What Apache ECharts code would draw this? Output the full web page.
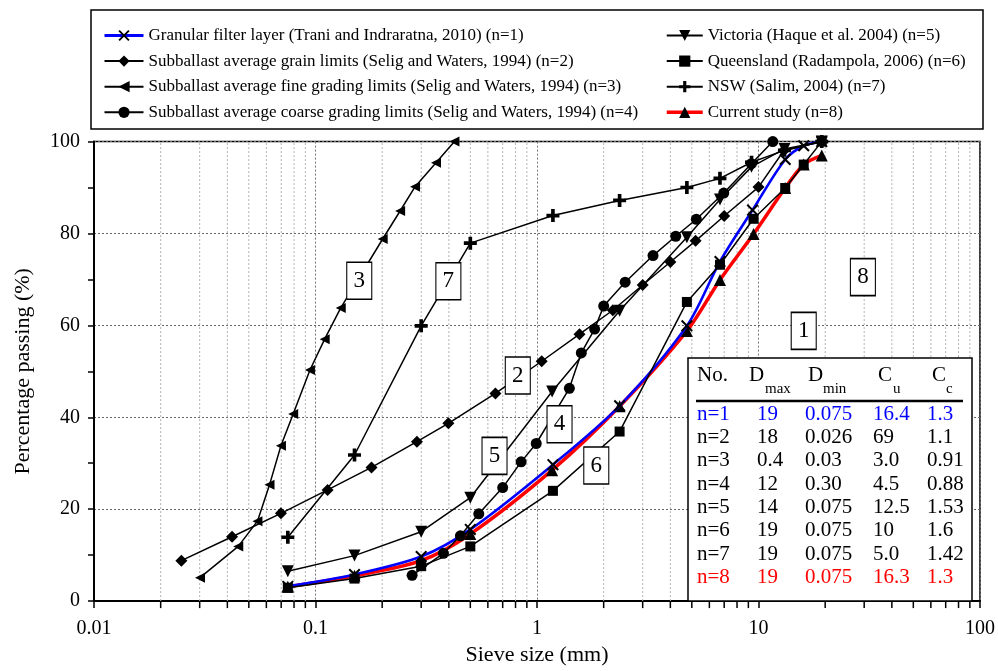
<!DOCTYPE html>
<html><head><meta charset="utf-8">
<script src="https://cdn.jsdelivr.net/npm/echarts@6/dist/echarts.min.js"></script>
<style>html,body{margin:0;padding:0;background:#fff}#c{width:998px;height:671px}</style>
</head><body><div id="c"></div>
<script>
// ---------- data ----------
const seriesNames = [
  'Granular filter layer (Trani and Indraratna, 2010) (n=1)',
  'Subballast average grain limits (Selig and Waters, 1994) (n=2)',
  'Subballast average fine grading limits (Selig and Waters, 1994) (n=3)',
  'Subballast average coarse grading limits (Selig and Waters, 1994) (n=4)',
  'Victoria (Haque et al. 2004) (n=5)',
  'Queensland (Radampola, 2006) (n=6)',
  'NSW (Salim, 2004) (n=7)',
  'Current study (n=8)'
];
const x1 = [0.075, 0.15, 0.3, 0.5, 1.18, 2.36, 4.75, 6.7, 9.4, 13.2, 16, 19.3];
const y1 = [3.2, 5.8, 9.7, 15.6, 29.7, 42.5, 59.9, 73.9, 85.1, 96.1, 99.1, 100];
const x2 = [0.0248, 0.042, 0.0698, 0.1134, 0.179, 0.287, 0.398, 0.649, 1.05, 1.556, 2.2, 3.0, 4.0, 5.2, 7.0, 10.0, 13.0, 19.3];
const y2 = [8.8, 14.0, 19.1, 24.2, 29.1, 34.7, 38.7, 45.2, 52.2, 58.1, 63.3, 68.8, 73.8, 78.4, 83.8, 90.1, 98.0, 100];
const x3 = [0.0301, 0.0448, 0.0547, 0.062, 0.0698, 0.0793, 0.0944, 0.11, 0.13, 0.201, 0.241, 0.2816, 0.35, 0.424];
const y3 = [5.1, 11.9, 17.4, 25.3, 33.8, 40.7, 50.3, 57.0, 63.8, 78.8, 84.9, 90.2, 95.4, 100];
const x4 = [0.273, 0.378, 0.451, 0.546, 0.70, 0.848, 0.992, 1.40, 1.585, 1.82, 2.0, 2.5, 3.34, 4.23, 5.24, 6.97, 9.29, 11.6];
const y4 = [5.6, 10.4, 14.2, 19.0, 24.7, 30.3, 34.3, 46.3, 54.0, 59.2, 64.2, 69.4, 75.2, 79.4, 83.1, 88.8, 95.2, 100];
const x5 = [0.075, 0.15, 0.3, 0.5, 1.17, 2.36, 4.75, 6.7, 9.3, 13.1, 19.3];
const y5 = [6.5, 9.9, 15.1, 22.5, 45.6, 63.2, 79.2, 87.4, 94.5, 98.4, 100];
const x6 = [0.075, 0.15, 0.3, 0.5, 1.18, 2.36, 4.75, 6.7, 9.5, 13.2, 16, 19.3];
const y6 = [2.9, 4.9, 7.6, 11.9, 24.0, 36.9, 65.1, 73.2, 83.2, 89.9, 95.0, 100];
const x7 = [0.075, 0.15, 0.3, 0.5, 1.18, 2.36, 4.75, 6.7, 9.3, 13.1, 19.3];
const y7 = [13.9, 31.8, 59.9, 77.9, 83.9, 87.2, 90.0, 92.0, 95.5, 98.1, 100];
const x8 = [0.075, 0.15, 0.3, 0.5, 1.17, 2.36, 4.75, 6.7, 9.5, 13.2, 16, 19.3];
const y8 = [3.1, 5.5, 8.8, 14.6, 28.5, 42.4, 58.8, 69.9, 79.9, 89.9, 95.0, 97.0];

// curve annotation boxes
const labelText = ['3', '7', '2', '5', '4', '6', '8', '1'];
const labelX = [0.1576, 0.398, 0.819, 0.643, 1.264, 1.852, 29.6, 16.0];
const labelY = [69.7, 69.6, 49.1, 31.6, 38.5, 29.5, 70.5, 58.8];

// table
const tblNo   = ['n=1', 'n=2', 'n=3', 'n=4', 'n=5', 'n=6', 'n=7', 'n=8'];
const tblDmax = ['19', '18', '0.4', '12', '14', '19', '19', '19'];
const tblDmin = ['0.075', '0.026', '0.03', '0.30', '0.075', '0.075', '0.075', '0.075'];
const tblCu   = ['16.4', '69', '3.0', '4.5', '12.5', '10', '5.0', '16.3'];
const tblCc   = ['1.3', '1.1', '0.91', '0.88', '1.53', '1.6', '1.42', '1.3'];
const tblColor = ['#0000ff', '#000', '#000', '#000', '#000', '#000', '#000', '#ff0000'];

// x-axis minor ticks
const minorMult = [2, 3, 4, 5, 6, 7, 8, 9];
const decades = [0.01, 0.1, 1, 10];

// ---------- chart ----------
const FONT = '"Liberation Serif", "Times New Roman", serif';
const pairs = (xs, ys) => xs.map((x, i) => [x, ys[i]]);
const minorVals = [];
decades.forEach(d => minorMult.forEach(m => minorVals.push([+(d * m).toPrecision(3), 0])));

const X_SYM = 'path://M1.2,0 L5,3.8 L8.8,0 L10,1.2 L6.2,5 L10,8.8 L8.8,10 L5,6.2 L1.2,10 L0,8.8 L3.8,5 L0,1.2 Z';
const PLUS_SYM = 'path://M3.6,0 H6.4 V3.6 H10 V6.4 H6.4 V10 H3.6 V6.4 H0 V3.6 H3.6 Z';

function lineSeries(i, xs, ys, opts) {
  return Object.assign({
    name: seriesNames[i],
    type: 'line',
    data: pairs(xs, ys),
    symbolSize: 10,
    showAllSymbol: true,
    lineStyle: { color: '#000', width: 1.5 },
    itemStyle: { color: '#000' },
    z: 4,
    animation: false
  }, opts);
}

const series = [
  lineSeries(0, x1, y1, { symbol: X_SYM, symbolSize: 12, smooth: 0.3, lineStyle: { color: '#0000ff', width: 2.6 }, z: 3 }),
  lineSeries(1, x2, y2, { symbol: 'diamond', symbolSize: 12 }),
  lineSeries(2, x3, y3, { symbol: 'triangle', symbolRotate: 90, symbolSize: 10 }),
  lineSeries(3, x4, y4, { symbol: 'circle', symbolSize: 11 }),
  lineSeries(4, x5, y5, { symbol: 'triangle', symbolRotate: 180, symbolSize: 12 }),
  lineSeries(5, x6, y6, { symbol: 'rect', symbolSize: 10 }),
  lineSeries(6, x7, y7, { symbol: PLUS_SYM, symbolSize: 13 }),
  lineSeries(7, x8, y8, { symbol: 'triangle', symbolSize: 12, smooth: 0.3, lineStyle: { color: '#ff0000', width: 3.5 }, z: 2 }),
  {
    type: 'custom', name: 'minor', clip: false, silent: true, z: 1, animation: false,
    data: minorVals,
    renderItem: function (params, api) {
      const v = api.value(0);
      const p0 = api.coord([v, 0]);
      const p1 = api.coord([v, 100]);
      return {
        type: 'group',
        children: [
          { type: 'line', shape: { x1: p0[0], y1: p0[1], x2: p1[0], y2: p1[1] },
            style: { stroke: '#b0b0b0', lineWidth: 1, lineDash: [2, 2] } },
          { type: 'line', shape: { x1: p0[0], y1: p0[1], x2: p0[0], y2: p0[1] + 7 },
            style: { stroke: '#000', lineWidth: 1.5 } }
        ]
      };
    }
  },
  {
    type: 'scatter', name: 'labels', silent: true, z: 10, animation: false,
    data: labelX.map((x, i) => [x, labelY[i], labelText[i]]),
    symbol: 'rect', symbolSize: [25, 37],
    itemStyle: { color: '#fff', opacity: 1, borderColor: '#000', borderWidth: 1.3 },
    label: { show: true, position: 'inside', formatter: p => p.value[2],
      fontFamily: FONT, fontSize: 23, color: '#000' }
  }
];

// table graphic (flat elements, each with high z)
const tX = 688, tY = 358, tW = 284, tH = 243;
const colX = [697, 757, 805, 873, 927];
const rowY0 = 414, rowDY = 23.35;
const tblEls = [
  { type: 'rect', z: 100, shape: { x: tX, y: tY, width: tW, height: tH },
    style: { fill: '#fff', stroke: '#000', lineWidth: 1.5 } },
  { type: 'line', z: 101, shape: { x1: 696, y1: 401, x2: 963, y2: 401 }, style: { stroke: '#000', lineWidth: 2.5 } }
];
function txt(x, y, s, size, color) {
  return { type: 'text', z: 102, x: x, y: y,
    style: { text: s, font: size + 'px ' + FONT, fill: color || '#000', verticalAlign: 'middle', align: 'left' } };
}
tblEls.push(txt(697, 375, 'No.', 21));
tblEls.push(txt(749, 375, 'D', 21)); tblEls.push(txt(765, 389, 'max', 15));
tblEls.push(txt(808, 375, 'D', 21)); tblEls.push(txt(823, 389, 'min', 15));
tblEls.push(txt(878, 375, 'C', 21)); tblEls.push(txt(893, 389, 'u', 15));
tblEls.push(txt(932, 375, 'C', 21)); tblEls.push(txt(946, 389, 'c', 15));
tblNo.forEach((s, i) => {
  const y = rowY0 + i * rowDY, c = tblColor[i];
  tblEls.push(txt(colX[0], y, s, 21, c));
  tblEls.push(txt(colX[1], y, tblDmax[i], 21, c));
  tblEls.push(txt(colX[2], y, tblDmin[i], 21, c));
  tblEls.push(txt(colX[3], y, tblCu[i], 21, c));
  tblEls.push(txt(colX[4], y, tblCc[i], 21, c));
});

const legendCommon = {
  orient: 'vertical', itemHeight: 14, itemGap: 7.6, selectedMode: false, padding: 0,
  textStyle: { fontFamily: FONT, fontSize: 17, color: '#000', lineHeight: 18 }
};
const legendLineW = [3, 2, 2, 2, 2, 2, 2, 3.5];
const legendItems = seriesNames.map((n, i) => ({ name: n, lineStyle: { width: legendLineW[i] } }));

const option = {
  backgroundColor: '#fff',
  animation: false,
  grid: { left: 94, right: 17, top: 141.6, bottom: 62.7, show: true, borderColor: '#000', borderWidth: 1.5, backgroundColor: 'transparent' },
  legend: [
    Object.assign({ data: legendItems.slice(0, 4), left: 103, top: 26.5, itemWidth: 39 }, legendCommon),
    Object.assign({ data: legendItems.slice(4), left: 665, top: 26.5, itemWidth: 36 }, legendCommon)
  ],
  xAxis: {
    type: 'log', logBase: 10, min: 0.01, max: 100,
    name: 'Sieve size (mm)', nameLocation: 'middle', nameGap: 40,
    nameTextStyle: { fontFamily: FONT, fontSize: 22, color: '#000' },
    axisLine: { lineStyle: { color: '#000', width: 2 } },
    axisTick: { show: true, length: 7, lineStyle: { color: '#000', width: 1.5 } },
    axisLabel: { fontFamily: FONT, fontSize: 20, color: '#000', margin: 18,
      formatter: v => String(parseFloat(Number(v).toPrecision(2))) },
    splitLine: { show: true, lineStyle: { color: '#777', width: 1, type: [2, 2] } }
  },
  yAxis: {
    type: 'value', min: 0, max: 100, interval: 20,
    name: 'Percentage passing (%)', nameLocation: 'middle', nameGap: 60,
    nameTextStyle: { fontFamily: FONT, fontSize: 22, color: '#000' },
    axisLine: { show: true, lineStyle: { color: '#000', width: 2 } },
    axisTick: { show: true, length: 6, lineStyle: { color: '#000', width: 1.5 } },
    minorTick: { show: true, splitNumber: 2, length: 6, lineStyle: { color: '#000', width: 1.5 } },
    axisLabel: { fontFamily: FONT, fontSize: 20, color: '#000', margin: 14 },
    splitLine: { show: true, lineStyle: { color: '#666', width: 1, type: [2, 2] } }
  },
  graphic: [
    { type: 'rect', shape: { x: 91, y: 10, width: 892, height: 119 }, z: 0,
      style: { fill: 'none', stroke: '#000', lineWidth: 1.5 } }
  ].concat(tblEls),
  series: series
};

const chart = echarts.init(document.getElementById('c'), null, { renderer: 'canvas' });
chart.setOption(option);
</script>
</body></html>
